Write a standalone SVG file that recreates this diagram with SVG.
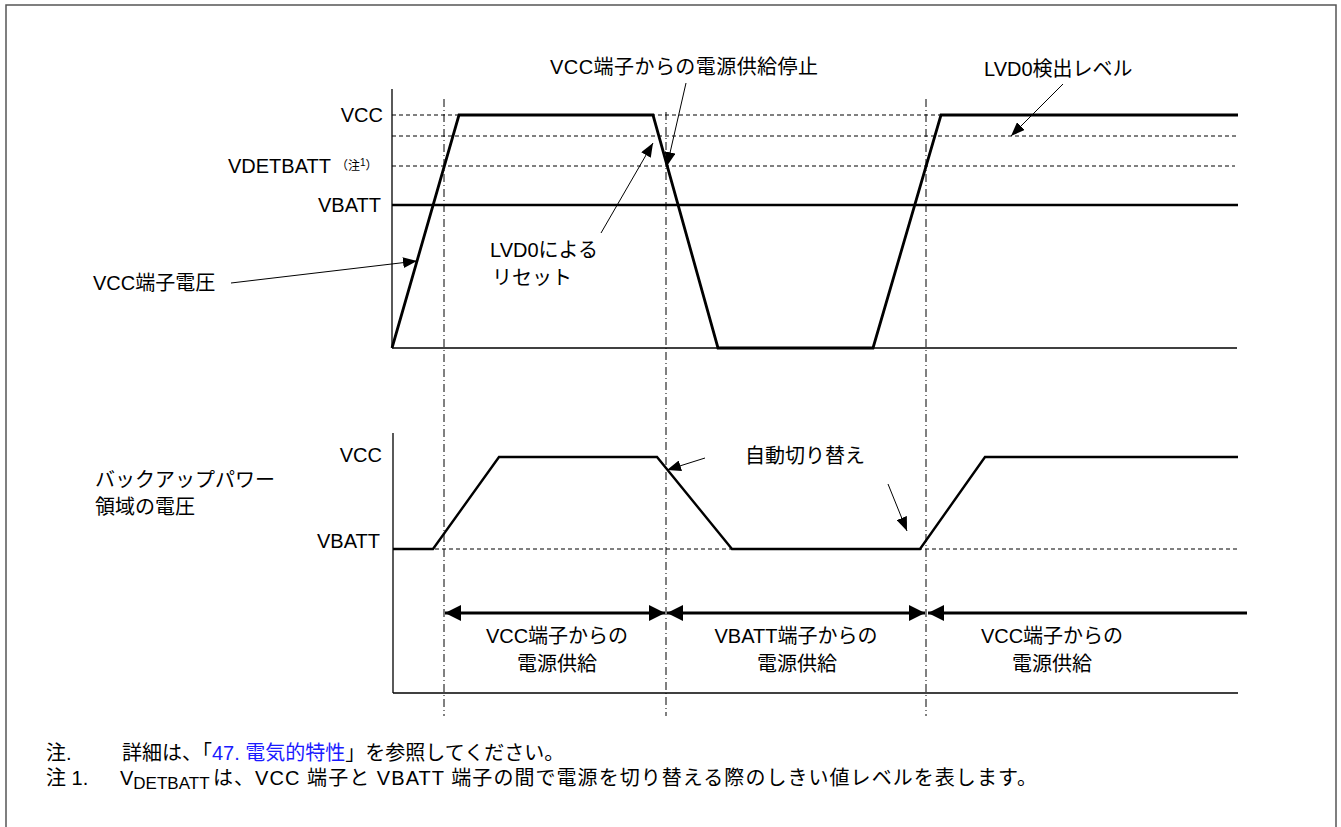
<svg xmlns="http://www.w3.org/2000/svg" width="1341" height="827" viewBox="0 0 1341 827">
<defs>
<style>
text{font-family:'Liberation Sans','Noto Sans CJK JP',sans-serif;font-size:20px;fill:#000}
.ax{stroke:#000;stroke-width:1.3;fill:none}
.dash{stroke:#000;stroke-width:1;stroke-dasharray:4 3;fill:none}
.dd{stroke:#000;stroke-width:1;stroke-dasharray:8 3 1 3;fill:none}
.wave{stroke:#000;stroke-width:2.8;fill:none;stroke-linejoin:miter}
.wave2{stroke:#000;stroke-width:2.4;fill:none}
.lead{stroke:#000;stroke-width:1;fill:none;marker-end:url(#ah)}
.span{stroke:#000;stroke-width:3;fill:none}
.r{text-anchor:end}
.m{text-anchor:middle}
</style>
<marker id="ah" markerUnits="userSpaceOnUse" markerWidth="15" markerHeight="11" refX="14" refY="5.5" orient="auto" viewBox="0 0 15 11">
<path d="M0,0 L14,5.5 L0,11 z" fill="#000"/>
</marker>
<marker id="big" markerUnits="userSpaceOnUse" markerWidth="17" markerHeight="17" refX="16" refY="8" orient="auto-start-reverse" viewBox="0 0 17 17">
<path d="M0,0 L16,8 L0,16 z" fill="#000"/>
</marker>
</defs>
<rect x="0" y="0" width="1341" height="827" fill="#fff"/>
<rect id="frame" x="6" y="5" width="1330" height="840" fill="none" stroke="#555" stroke-width="1.5"/>

<g id="upper-graph">
<line class="ax" x1="392" y1="89" x2="392" y2="348"/>
<line class="ax" x1="392" y1="348" x2="1237" y2="348"/>
<line class="dash" x1="392" y1="115" x2="1238" y2="115"/>
<line class="dash" x1="392" y1="136" x2="1236" y2="136"/>
<line class="dash" x1="392" y1="166" x2="1235" y2="166"/>
<line x1="392" y1="205" x2="1238" y2="205" stroke="#000" stroke-width="2.6"/>
<polyline class="wave" points="392,348 459,115 653,115 718,348 873,348 941,115 1238,115"/>
<text class="r" x="383" y="122">VCC</text>
<text x="228" y="173">VDETBATT</text>
<text x="336" y="170" style="font-size:12px">（注<tspan dy="-4" style="font-size:10px">1</tspan><tspan dy="4">）</tspan></text>
<text class="r" x="381" y="212">VBATT</text>
<text x="93" y="290">VCC端子電圧</text>
<text x="550" y="74" textLength="268" lengthAdjust="spacing">VCC端子からの電源供給停止</text>
<text x="490" y="257">LVD0による</text>
<text x="492" y="285">リセット</text>
<text x="984" y="76">LVD0検出レベル</text>
</g>

<g id="lower-graph">
<line class="ax" x1="393" y1="433" x2="393" y2="693"/>
<line class="ax" x1="393" y1="693" x2="1238" y2="693"/>
<line class="dash" x1="393" y1="549" x2="1238" y2="549"/>
<polyline class="wave2" points="393,549 433,549 499,457 657,457 732,549 920,549 985,457 1238,457"/>
<text class="r" x="382" y="462">VCC</text>
<text class="r" x="380" y="548">VBATT</text>
<text x="95" y="487">バックアップパワー</text>
<text x="95" y="514">領域の電圧</text>
<text x="745" y="463">自動切り替え</text>
<text class="m" x="557" y="643">VCC端子からの</text>
<text class="m" x="557" y="671">電源供給</text>
<text class="m" x="796" y="643">VBATT端子からの</text>
<text class="m" x="797" y="671">電源供給</text>
<text class="m" x="1052" y="643">VCC端子からの</text>
<text class="m" x="1052" y="671">電源供給</text>
</g>

<g id="timelines">
<line class="dd" x1="444" y1="99" x2="444" y2="716"/>
<line class="dd" x1="666" y1="112" x2="666" y2="716"/>
<line class="dd" x1="926" y1="99" x2="926" y2="716"/>
</g>

<g id="connectors">
<line class="lead" x1="231" y1="283" x2="417" y2="261"/>
<line class="lead" x1="686" y1="83" x2="667" y2="166"/>
<line class="lead" x1="601" y1="233" x2="653" y2="143"/>
<line class="lead" x1="1063" y1="84" x2="1011" y2="136"/>
<line class="lead" x1="705" y1="458" x2="667" y2="470"/>
<line class="lead" x1="888" y1="484" x2="907" y2="531"/>
<line class="span" x1="445" y1="613" x2="665" y2="613" marker-start="url(#big)" marker-end="url(#big)"/>
<line class="span" x1="667" y1="613" x2="925" y2="613" marker-start="url(#big)" marker-end="url(#big)"/>
<line class="span" x1="928" y1="613" x2="1247" y2="613" marker-start="url(#big)"/>
</g>

<g id="notes">
<text x="46" y="760">注.</text>
<text x="122" y="760">詳細は、「<tspan fill="#1a1aff" style="fill:#1a1aff">47. 電気的特性</tspan>」を参照してください。</text>
<text x="46" y="785">注 1.</text>
<text x="120" y="785">V<tspan style="font-size:17px" dy="4">DETBATT</tspan></text>
<text x="213" y="785" textLength="824" lengthAdjust="spacing">は、VCC 端子と VBATT 端子の間で電源を切り替える際のしきい値レベルを表します。</text>
</g>
</svg>
